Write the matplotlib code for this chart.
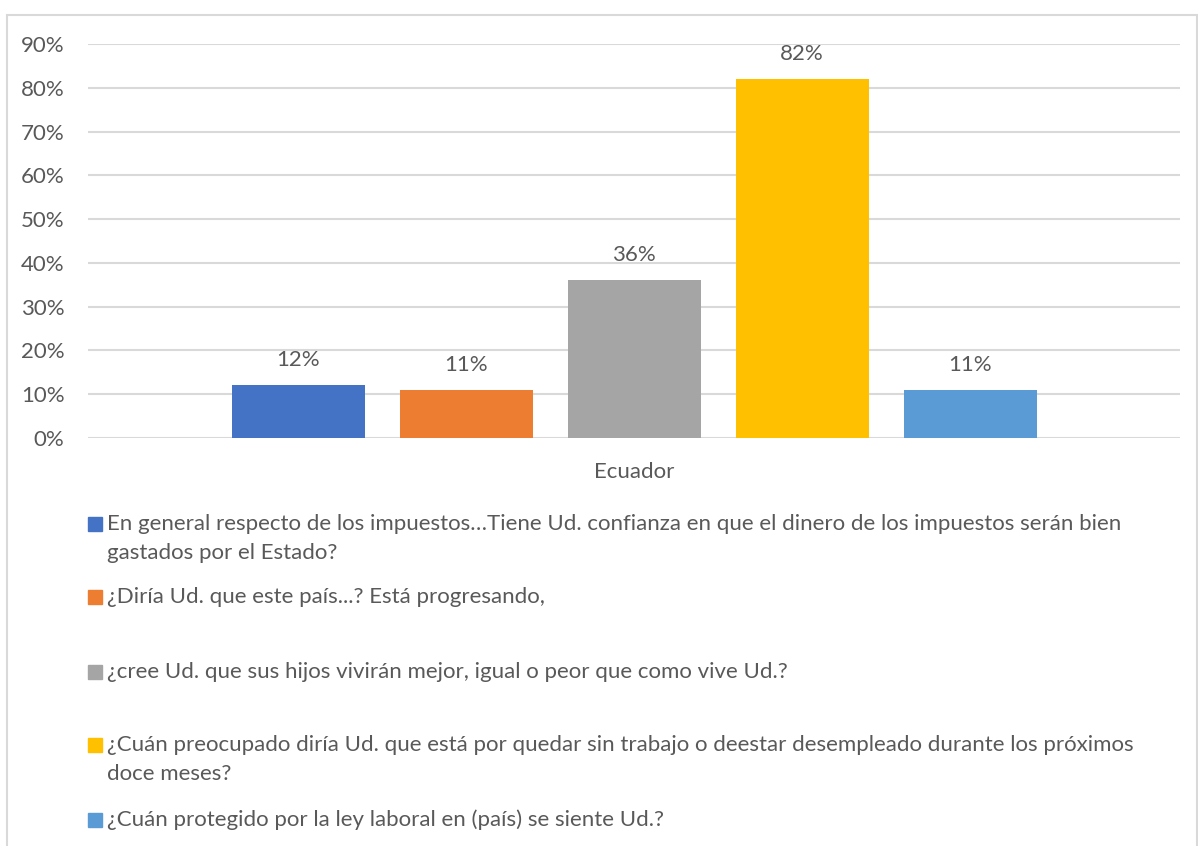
import matplotlib
matplotlib.use("Agg")
import matplotlib.pyplot as plt
from matplotlib.patches import Rectangle
from matplotlib.ticker import PercentFormatter

# datos
categoria = ["Ecuador"]
preguntas = [
    "En general respecto de los impuestos…Tiene Ud. confianza en que el dinero de los impuestos serán bien\ngastados por el Estado?",
    "¿Diría Ud. que este país...? Está progresando,",
    "¿cree Ud. que sus hijos vivirán mejor, igual o peor que como vive Ud.?",
    "¿Cuán preocupado diría Ud. que está por quedar sin trabajo o deestar desempleado durante los próximos\ndoce meses?",
    "¿Cuán protegido por la ley laboral en (país) se siente Ud.?",
]
valores = [0.12, 0.11, 0.36, 0.82, 0.11]
colores = ["#4472C4", "#ED7D31", "#A5A5A5", "#FFC000", "#5B9BD5"]
yticks = [0, 0.1, 0.2, 0.3, 0.4, 0.5, 0.6, 0.7, 0.8, 0.9]

W, H = 1198, 846
TXT = "#595959"
plt.rcParams["font.family"] = ["Lato", "DejaVu Sans"]
FS = 16

fig = plt.figure(figsize=(W / 100, H / 100), dpi=100)
ax = fig.add_axes([88 / W, 1 - 438 / H, (1180 - 88) / W, (438 - 44) / H])

# borde del área del gráfico
fig.patches.append(Rectangle((7 / W, -0.05), (1197 - 7) / W, 1 - 15 / H + 0.05,
                             transform=fig.transFigure, fill=False,
                             edgecolor="#d9d9d9", linewidth=1.5))

paso = 168 / 1092
ancho = 133 / 1092
n = len(valores)
for i, (v, c) in enumerate(zip(valores, colores)):
    x = (i - (n - 1) / 2) * paso
    ax.bar(x, v, width=ancho, color=c, zorder=3)
    ax.annotate(f"{v:.0%}", (x, v), xytext=(0, 11), textcoords="offset points",
                ha="center", va="bottom", fontsize=FS, color=TXT)

ax.set_xlim(-0.5, 0.5)
ax.set_ylim(0, 0.9)
ax.set_yticks(yticks)
ax.yaxis.set_major_formatter(PercentFormatter(1.0, decimals=0))
ax.set_xticks([0])
ax.set_xticklabels(categoria)
ax.tick_params(axis="y", length=0, pad=17, labelsize=FS, labelcolor=TXT)
ax.tick_params(axis="x", length=0, pad=17, labelsize=FS, labelcolor=TXT)
ax.grid(axis="y", color="#d9d9d9", linewidth=1.5, zorder=0)
for s in ax.spines.values():
    s.set_visible(False)

# leyenda manual (estilo Excel)
filas = [524, 597, 672, 745, 820]
for txt, c, y0 in zip(preguntas, colores, filas):
    fig.patches.append(Rectangle((88 / W, 1 - (y0 + 7) / H), 14 / W, 14 / H,
                                 transform=fig.transFigure, color=c))
    for k, linea in enumerate(txt.split("\n")):
        fig.text(107 / W, 1 - (y0 + 29 * k) / H, linea, ha="left", va="center",
                 fontsize=FS, color=TXT)

fig.savefig("out.png", dpi=100, facecolor="white")
